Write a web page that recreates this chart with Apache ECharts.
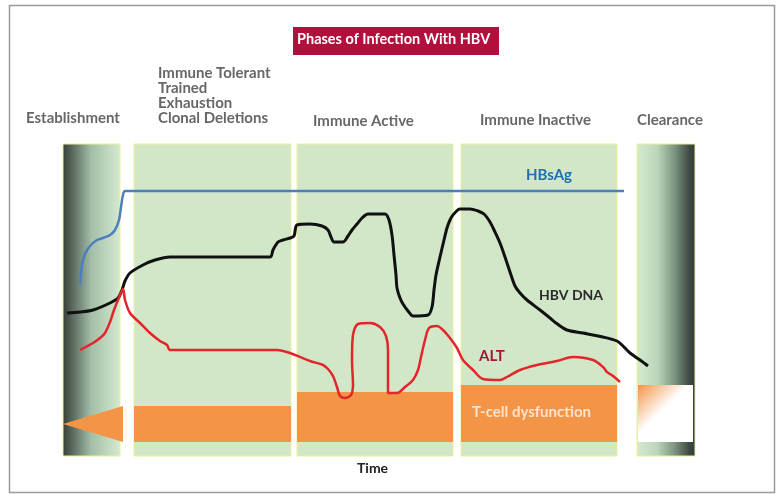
<!DOCTYPE html>
<html>
<head>
<meta charset="utf-8">
<script src="https://cdn.jsdelivr.net/npm/echarts@6/dist/echarts.min.js"></script>
<style>
  html, body { margin: 0; padding: 0; background: #fff; }
  #chart { width: 777px; height: 495px; }
</style>
</head>
<body>
<div id="chart"></div>
<script>
// schematic coordinates: x = time, y = level (top down)
const phaseNames = ['Establishment', 'Immune Tolerant', 'Immune Active', 'Immune Inactive', 'Clearance']
const phaseStart = [63, 134, 297, 461, 637]
const phaseEnd = [120, 291, 453, 617, 695]
const tcellTop = [406, 406, 392, 385, 385]
const tcellBottom = [442, 442, 442, 442, 442]

const hbsAg = [[80,285],[82,265],[85,254],[90,246],[97,240],[103,238],[110,235],[115,230],[119,220],[121,207],[123,195],[125,191],[624,191]]

const hbvDna = [[67,313],[80,312],[93,310],[110,303],[118,298],[122,290],[125,281],[130,273],[143,265],[155,260],[170,257],[270,257],[273,250],
  [278,242],[283,240],[290,238],[294,236],[297,225],[310,224],[322,226],[328,230],[331,237],[334,242],[343,242],[348,236],[352,230],
  [357,224],[362,218],[368,214],[385,214],[389,220],[392,235],[394,255],[396,275],[397,288],[400,298],[403,304],[408,311],[413,316],
  [428,315],[432,307],[434,290],[436,275],[440,257],[444,240],[447,228],[450,220],[453,215],[460,209],[470,209],[478,211],[484,214],
  [490,222],[495,232],[500,243],[505,257],[510,272],[515,286],[520,293],[527,300],[540,310],[550,318],[556,323],[567,330],[583,333],
  [603,337],[617,341],[623,346],[630,353],[640,360],[648,366]]

const alt = [[80,350],[93,343],[100,338],[105,333],[110,322],[114,310],[118,300],[123,289],[125,300],[130,313],[140,323],[150,333],
  [160,341],[167,345],[170,350],[277,350],[290,353],[310,361],[323,365],[328,369],[333,376],[337,387],[340,396],[345,398],[351,395],
  [353,385],[352,360],[353,335],[358,324],[370,323],[380,327],[386,336],[388,350],[388,393],[397,393],[405,387],[413,380],[418,370],
  [421,357],[425,340],[429,328],[437,326],[443,330],[450,338],[457,348],[463,360],[473,370],[483,379],[500,380],[507,377],[520,370],
  [537,365],[557,361],[573,357],[593,360],[603,367],[607,372],[613,376],[620,382]]

const chart = echarts.init(document.getElementById('chart'))

const FONT = 'Lato'
const GRAY = '#66676a'

function panelFill(i) {
  if (i === 0) {
    return new echarts.graphic.LinearGradient(0, 0, 1, 0, [
      {offset: 0, color: '#343d37'}, {offset: 0.15, color: '#56645a'},
      {offset: 0.5, color: '#a4bfa8'}, {offset: 1, color: '#d5ebd0'}])
  }
  if (i === 4) {
    return new echarts.graphic.LinearGradient(0, 0, 1, 0, [
      {offset: 0, color: '#d5ebd0'}, {offset: 0.35, color: '#bcd6bb'},
      {offset: 0.65, color: '#7b9380'}, {offset: 0.9, color: '#3e4842'}, {offset: 1, color: '#343d37'}])
  }
  return '#d1e7c8'
}

const panelData = phaseStart.map((s, i) => [s, phaseEnd[i], 144, 456])
const tcellData = phaseStart.map((s, i) => [s, phaseEnd[i], tcellTop[i], tcellBottom[i]])

chart.setOption({
  animation: false,
  grid: {left: 0, right: 0, top: 0, bottom: 0},
  xAxis: {type: 'value', min: 0, max: 777, show: false},
  yAxis: {type: 'value', min: 0, max: 495, inverse: true, show: false},
  graphic: [
    {type: 'rect', left: 7, top: 3, shape: {width: 765, height: 487}, style: {fill: 'none', stroke: '#9a9a9a', lineWidth: 1.5}, z: 0},
    {type: 'rect', left: 293, top: 27, shape: {width: 206, height: 28}, style: {fill: '#b1103c'}, z: 10},
    {type: 'text', left: 297, top: 32, style: {text: 'Phases of Infection With HBV', fill: '#fff', font: 'bold 14.5px ' + FONT}, z: 11},
    {type: 'text', left: 26, top: 111, style: {text: 'Establishment', fill: GRAY, font: 'bold 15px ' + FONT}, z: 11},
    {type: 'text', left: 158, top: 66, style: {text: 'Immune Tolerant\nTrained\nExhaustion\nClonal Deletions', fill: GRAY, font: 'bold 15px ' + FONT, lineHeight: 15}, z: 11},
    {type: 'text', left: 313, top: 114, style: {text: 'Immune Active', fill: GRAY, font: 'bold 15px ' + FONT}, z: 11},
    {type: 'text', left: 480, top: 113, style: {text: 'Immune Inactive', fill: GRAY, font: 'bold 15px ' + FONT}, z: 11},
    {type: 'text', left: 637, top: 113, style: {text: 'Clearance', fill: GRAY, font: 'bold 15px ' + FONT}, z: 11},
    {type: 'text', left: 526, top: 168, style: {text: 'HBsAg', fill: '#1f6fb2', font: 'bold 15px ' + FONT}, z: 11},
    {type: 'text', left: 539, top: 288, style: {text: 'HBV DNA', fill: '#2b2b2b', font: 'bold 14px ' + FONT}, z: 11},
    {type: 'text', left: 479, top: 349, style: {text: 'ALT', fill: '#a3163c', font: 'bold 15px ' + FONT}, z: 11},
    {type: 'text', left: 472, top: 405, style: {text: 'T-cell dysfunction', fill: '#fbe3cf', font: 'bold 15px ' + FONT}, z: 11},
    {type: 'text', left: 357, top: 461, style: {text: 'Time', fill: '#222', font: 'bold 14px ' + FONT}, z: 11}
  ],
  series: [
    {
      type: 'custom',
      name: 'phases',
      z: 1,
      data: panelData,
      renderItem: function (params, api) {
        const p0 = api.coord([api.value(0), api.value(2)])
        const p1 = api.coord([api.value(1), api.value(3)])
        return {
          type: 'rect',
          shape: {x: p0[0], y: p0[1], width: p1[0] - p0[0], height: p1[1] - p0[1]},
          style: {fill: panelFill(params.dataIndex), stroke: '#efef9a', lineWidth: 1}
        }
      }
    },
    {
      type: 'custom',
      name: 'T-cell dysfunction',
      z: 2,
      data: tcellData,
      renderItem: function (params, api) {
        const i = params.dataIndex
        const p0 = api.coord([api.value(0), api.value(2)])
        const p1 = api.coord([api.value(1), api.value(3)])
        if (i === 0) {
          // arrow pointing back to establishment
          const tip = api.coord([api.value(0), (api.value(2) + api.value(3)) / 2])
          const base = api.coord([123, 0])[0]
          return {
            type: 'polygon',
            shape: {points: [[tip[0], tip[1]], [base, p0[1]], [base, p1[1]]]},
            style: {fill: '#f39447'}
          }
        }
        if (i === 4) {
          return {
            type: 'rect',
            shape: {x: p0[0] + 1, y: p0[1], width: p1[0] - p0[0] - 3, height: p1[1] - p0[1]},
            style: {fill: new echarts.graphic.LinearGradient(0, 0, 1, 1, [
              {offset: 0, color: '#f39447'}, {offset: 0.45, color: '#ffffff'}, {offset: 1, color: '#ffffff'}])}
          }
        }
        return {
          type: 'rect',
          shape: {x: p0[0], y: p0[1], width: p1[0] - p0[0], height: p1[1] - p0[1]},
          style: {fill: '#f39447'}
        }
      }
    },
    {
      type: 'line', name: 'HBsAg', data: hbsAg, z: 5,
      smooth: 0.3, symbol: 'none',
      lineStyle: {color: '#4d7fc0', width: 2.5}
    },
    {
      type: 'line', name: 'HBV DNA', data: hbvDna, z: 5,
      smooth: 0.3, symbol: 'none',
      lineStyle: {color: '#111', width: 3}
    },
    {
      type: 'line', name: 'ALT', data: alt, z: 5,
      smooth: 0.3, symbol: 'none',
      lineStyle: {color: '#e2262a', width: 2.5}
    }
  ]
})
</script>
</body>
</html>
